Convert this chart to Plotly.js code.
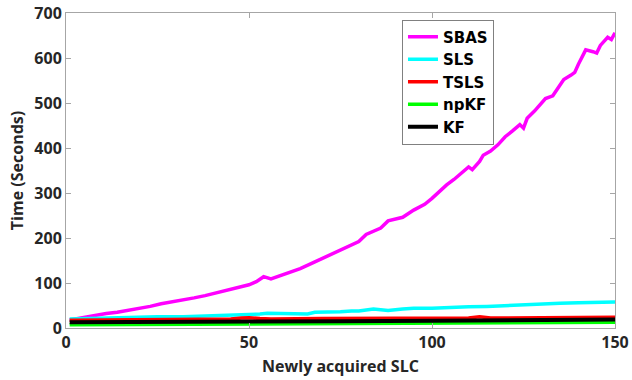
<!DOCTYPE html>
<html>
<head>
<meta charset="utf-8">
<script src="https://cdn.plot.ly/plotly-3.0.1.min.js"></script>
<style>html,body{margin:0;padding:0;background:#fff;}#chart{width:632px;height:380px;}</style>
</head>
<body>
<div id="chart"></div>
<script>
// SBAS
const sbasX = [1, 3, 5, 8, 11, 14, 17, 20, 23, 26, 29, 32, 35, 38, 42, 45, 48, 50, 52, 54, 56, 58, 61, 64, 68, 71, 75, 78, 80, 82, 84, 86, 88, 90, 92, 95, 98, 100, 102, 104, 106, 108, 110, 111, 113, 114, 116, 118, 120, 122, 124, 125, 126, 128, 130, 131, 133, 135, 136, 138, 139, 140, 142, 144, 145, 146, 148, 149, 150];
const sbasY = [18, 21, 24, 28, 32, 35, 39, 43, 48, 54, 58, 62, 67, 72, 80, 86, 92, 96, 103, 114, 109, 115, 123, 132, 147, 158, 172, 183, 192, 208, 216, 222, 238, 243, 246, 262, 275, 288, 303, 318, 330, 343, 358, 352, 370, 384, 393, 407, 425, 438, 452, 444, 466, 482, 500, 510, 516, 540, 552, 562, 568, 586, 618, 614, 611, 628, 646, 641, 656];
// SLS
const slsX = [1, 5, 10, 18, 25, 32, 40, 46, 50, 53, 55, 58, 62, 66, 68, 72, 75, 78, 80, 84, 86, 88, 92, 95, 100, 105, 110, 115, 120, 125, 130, 135, 140, 145, 150];
const slsY = [20, 21, 22, 23, 25, 25, 27, 28, 29, 31, 33, 32, 31, 31, 35, 35, 36, 38, 38, 42, 40, 39, 42, 44, 44, 46, 47, 48, 50, 52, 53, 55, 56, 57, 58];
// TSLS
const tslsX = [1, 20, 40, 45, 48, 50, 53, 56, 70, 90, 100, 110, 113, 116, 130, 150];
const tslsY = [17, 18, 19, 20, 22, 23, 21, 20, 21, 22, 22, 22, 25, 22, 23, 24];
// npKF
const npkfX = [1, 50, 100, 150];
const npkfY = [7, 9, 11, 13];
// KF
const kfX = [1, 25, 50, 75, 100, 125, 150];
const kfY = [13, 13, 14, 15, 16, 17, 19];

const xTicks = [0, 50, 100, 150];
const yTicks = [0, 100, 200, 300, 400, 500, 600, 700];

const fontFam = '"Open Sans", "DejaVu Sans", sans-serif';
const legFam = '"DejaVu Sans", sans-serif';
const series = [
  {name: 'SBAS', x: sbasX, y: sbasY, color: '#ff00ff', w: 3.5},
  {name: 'SLS', x: slsX, y: slsY, color: '#00ffff', w: 3.5},
  {name: 'TSLS', x: tslsX, y: tslsY, color: '#ff0000', w: 3.5},
  {name: 'npKF', x: npkfX, y: npkfY, color: '#00ff00', w: 3.5},
  {name: 'KF', x: kfX, y: kfY, color: '#000000', w: 4}
];
const traces = series.map(s => ({
  type: 'scatter', mode: 'lines', name: s.name, x: s.x, y: s.y,
  line: {color: s.color, width: s.w}
}));

const axisCommon = {
  showline: true, mirror: 'ticks', linecolor: '#a6a6a6', linewidth: 1,
  ticks: 'inside', ticklen: 5, tickcolor: '#a6a6a6', showgrid: false, zeroline: false,
  tickfont: {family: fontFam, size: 16, color: '#262626', weight: 'bold'}
};

const layout = {
  width: 632, height: 380,
  margin: {l: 66, r: 17, t: 13, b: 52},
  paper_bgcolor: '#ffffff', plot_bgcolor: '#ffffff',
  showlegend: true,
  legend: {
    x: 0.612, y: 0.979, xanchor: 'left', yanchor: 'top',
    bordercolor: '#808080', borderwidth: 1, bgcolor: '#ffffff',
    font: {family: legFam, size: 15, color: '#000000', weight: 'bold'},
    tracegroupgap: 0
  },
  xaxis: Object.assign({}, axisCommon, {
    range: [0, 150], tickvals: xTicks, ticktext: xTicks.map(String),
    title: {text: 'Newly acquired SLC', standoff: 8, font: {family: fontFam, size: 16, color: '#262626', weight: 'bold'}}
  }),
  yaxis: Object.assign({}, axisCommon, {
    range: [0, 700], tickvals: yTicks, ticktext: yTicks.map(String),
    title: {text: 'Time (Seconds)', standoff: 6, font: {family: fontFam, size: 16, color: '#262626', weight: 'bold'}}
  })
};

Plotly.newPlot('chart', traces, layout, {displayModeBar: false, staticPlot: true});
</script>
</body>
</html>
